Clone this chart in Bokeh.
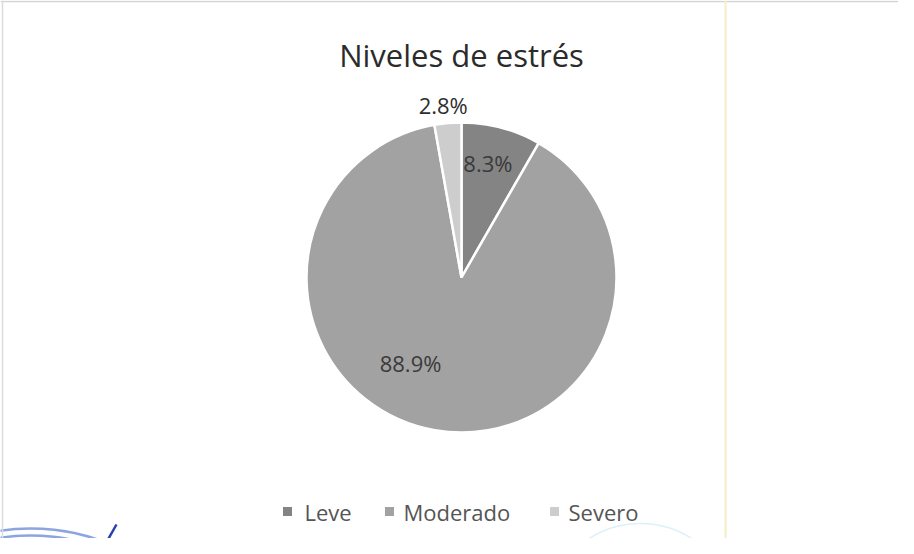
import math
from bokeh.plotting import figure
from bokeh.models import Range1d, Span
from bokeh.core.properties import value
from bokeh.embed import file_html
from bokeh.resources import INLINE

# ---- data ----
title = "Niveles de estrés"
categories = ["Leve", "Moderado", "Severo"]
percentages = [8.3, 88.9, 2.8]
labels = ["8.3%", "88.9%", "2.8%"]

# ---- style ----
colors = ["#848484", "#a2a2a2", "#cdcdcd"]
label_colors = ["#3a3a3a", "#3a3a3a", "#2e2e2e"]
label_r_frac = [0.76, 0.64, 1.12]      # label distance as fraction of radius
label_ang_adj = [-2.0, 21.0, -1.0]     # degrees, clockwise adjustment (best-fit look)
legend_sq_x = [287, 389, 554]
legend_txt_x = [304, 403, 568]

W, H = 898, 538
FONT = "Open Sans"

p = figure(width=W, height=H, output_backend="svg", toolbar_location=None,
           x_range=Range1d(0, W), y_range=Range1d(0, H), min_border=0)
p.axis.visible = False
p.grid.visible = False
p.outline_line_color = None
p.background_fill_color = "white"
p.border_fill_color = "white"

# frame lines of the scanned chart
p.add_layout(Span(location=H - 1, dimension="width", line_color="#d4d4d4", line_width=1.5))
p.add_layout(Span(location=2, dimension="height", line_color="#dcdcdc", line_width=1.5))
p.add_layout(Span(location=725, dimension="height", line_color="#f5edc4", line_width=2))

cx, cy, R = 461, 261, 155
total = sum(percentages)
cum = 0.0
starts, ends = [], []
for v in percentages:
    starts.append(math.pi / 2 - 2 * math.pi * cum / total)
    cum += v
    ends.append(math.pi / 2 - 2 * math.pi * cum / total)

p.wedge(x=[cx] * 3, y=[cy] * 3, radius=R, start_angle=starts, end_angle=ends,
        direction="clock", fill_color=colors, line_color="white", line_width=2.5)

# data labels
lx, ly = [], []
c = 0.0
for i, v in enumerate(percentages):
    mid = (c + v / 2) / total * 360.0 + label_ang_adj[i]
    c += v
    ang = math.radians(90.0 - mid)
    lx.append(cx + label_r_frac[i] * R * math.cos(ang))
    ly.append(cy + label_r_frac[i] * R * math.sin(ang))
p.text(x=lx, y=ly, text=labels, text_align="center", text_baseline="middle",
       text_font=value(FONT), text_font_size="22px", text_color=label_colors)

# title
p.text(x=[cx], y=[484], text=[title], text_align="center", text_baseline="alphabetic",
       text_font=value(FONT), text_font_size="31px", text_color="#2b2b2b")

# legend
p.scatter(x=legend_sq_x, y=[27] * 3, marker="square", size=9, fill_color=colors,
          line_color=None)
p.text(x=legend_txt_x, y=[27] * 3, text=categories, text_align="left",
       text_baseline="middle", text_font=value(FONT), text_font_size="22px",
       text_color="#555555")

# faint stamp traces from the scan
p.arc(x=[30, 30], y=[-200, -200], radius=[210, 203], start_angle=math.radians(62),
      end_angle=math.radians(105), line_color="#5a7fd6", line_width=2.5, line_alpha=0.7)
p.segment(x0=[108], y0=[0], x1=[116], y1=[14], line_color="#2a3fb0", line_width=2.5)
p.arc(x=[640], y=[-80], radius=[95], start_angle=math.radians(55), end_angle=math.radians(125),
      line_color="#bfe8f2", line_width=1.5, line_alpha=0.6)

open("out.html", "w").write(file_html(p, INLINE))
